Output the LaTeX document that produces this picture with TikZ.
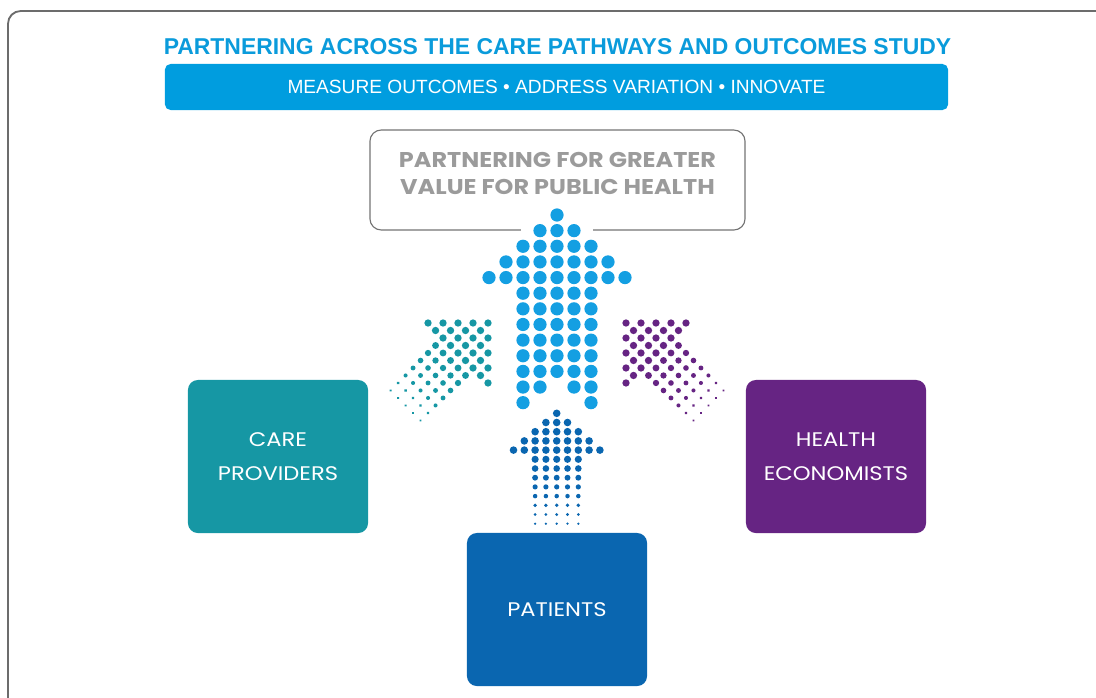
\documentclass[tikz,border=0pt]{standalone}
\usepackage{fontspec}
\setmainfont{Liberation Sans}
\newfontfamily\geofont[FakeStretch=1.15]{Poppins}
\newfontfamily\geowide[FakeStretch=1.12]{Poppins}

\definecolor{titleblue}{HTML}{0A9BDB}
\definecolor{bannerblue}{HTML}{009DDF}
\definecolor{arrowblue}{HTML}{149FE2}
\definecolor{careteal}{HTML}{1697A4}
\definecolor{econpurple}{HTML}{662483}
\definecolor{patblue}{HTML}{0A66B0}
\definecolor{valuegray}{HTML}{9B9B9B}

\begin{document}
\begin{tikzpicture}[x=0.025cm,y=-0.025cm]
        \tikzset{group/.style = {rounded corners=7pt,text=white,align=center,
            minimum width=4.5cm,minimum height=3.825cm,
            font=\geofont\fontsize{14}{24}\selectfont}};
        \useasboundingbox (0,0) rectangle (1096,697);
        \clip (0,0) rectangle (1096,697);
        % frame
        \draw[gray!85!black,line width=1.3pt,rounded corners=9pt] (8,11) rectangle (1120,720);
        % heading
        \node[text=titleblue,font=\bfseries\fontsize{16.3}{18}\selectfont] (title) at (557.5,46.5)
            {PARTNERING ACROSS THE CARE PATHWAYS AND OUTCOMES STUDY};
        \node[fill=bannerblue,rounded corners=4pt,minimum width=19.575cm,minimum height=1.15cm,
            text=white,font=\fontsize{13.6}{15}\selectfont] (banner) at (556.5,87)
            {MEASURE OUTCOMES \textbullet{} ADDRESS VARIATION \textbullet{} INNOVATE};
        % goal
        \node[draw=gray!90!black,line width=0.8pt,rounded corners=8pt,minimum width=9.375cm,
            minimum height=2.5cm] (valuebox) at (557.5,180) {};
        \node[text=valuegray,align=center,font=\geowide\bfseries\fontsize{15.2}{19.2}\selectfont]
            (valuetext) at (557.5,173.5) {PARTNERING FOR GREATER\\VALUE FOR PUBLIC HEALTH};
        \fill[white] (521,224) rectangle (593,236);
        % main arrow
        \foreach \i/\ks in {0/0,1/{-1,0,1},2/{-2,...,2},3/{-3,...,3},4/{-4,...,4},
            5/{-2,...,2},6/{-2,...,2},7/{-2,...,2},8/{-2,...,2},9/{-2,...,2},10/{-2,...,2},
            11/{-2,-1,1,2},12/{-2,2}}
            \foreach \k in \ks \fill[arrowblue] (557+17*\k,215+15.64*\i) circle (4.7pt);
        % patients arrow
        \begin{scope}[shift={(556.7,413.3)}]
            \foreach \i/\ks/\r in {0/0/2.7,1/{-1,0,1}/2.7,2/{-2,...,2}/2.7,3/{-3,...,3}/2.7,
                4/{-4,...,4}/2.7,5/{-2,...,2}/2.55,6/{-2,...,2}/2.35,7/{-2,...,2}/2.1,
                8/{-2,...,2}/1.85,9/{-2,...,2}/1.6,10/{-2,...,2}/1.35,11/{-2,...,2}/1.1,
                12/{-2,...,2}/0.9}
                \foreach \k in \ks \fill[patblue] (10.8*\k,9.2*\i) circle (\r pt);
        \end{scope}
        % care providers arrow
        \begin{scope}[shift={(488,323)},rotate=-45]
            \foreach \i/\ks/\r in {0/0/2.6,1/{-1,0,1}/2.6,2/{-2,...,2}/2.6,3/{-3,...,3}/2.6,
                4/{-4,...,4}/2.6,5/{-2,...,2}/2.45,6/{-2,...,2}/2.25,7/{-2,...,2}/2.0,
                8/{-2,...,2}/1.75,9/{-2,...,2}/1.45,10/{-2,...,2}/1.2,11/{-2,...,2}/0.95}
                \foreach \k in \ks \fill[careteal] (10.6*\k,10.6*\i) circle (\r pt);
        \end{scope}
        % economists arrow
        \begin{scope}[shift={(626,323)},rotate=45]
            \foreach \i/\ks/\r in {0/0/2.6,1/{-1,0,1}/2.6,2/{-2,...,2}/2.6,3/{-3,...,3}/2.6,
                4/{-4,...,4}/2.6,5/{-2,...,2}/2.45,6/{-2,...,2}/2.25,7/{-2,...,2}/2.0,
                8/{-2,...,2}/1.75,9/{-2,...,2}/1.45,10/{-2,...,2}/1.2,11/{-2,...,2}/0.95}
                \foreach \k in \ks \fill[econpurple] (10.6*\k,10.6*\i) circle (\r pt);
        \end{scope}
        % groups
        \node[group,fill=careteal] (care) at (278,456.5) {CARE\\PROVIDERS};
        \node[group,fill=econpurple] (econ) at (836,456.5) {HEALTH\\ECONOMISTS};
        \node[group,fill=patblue] (patients) at (557,609.5) {PATIENTS};
    \end{tikzpicture}
\end{document}
